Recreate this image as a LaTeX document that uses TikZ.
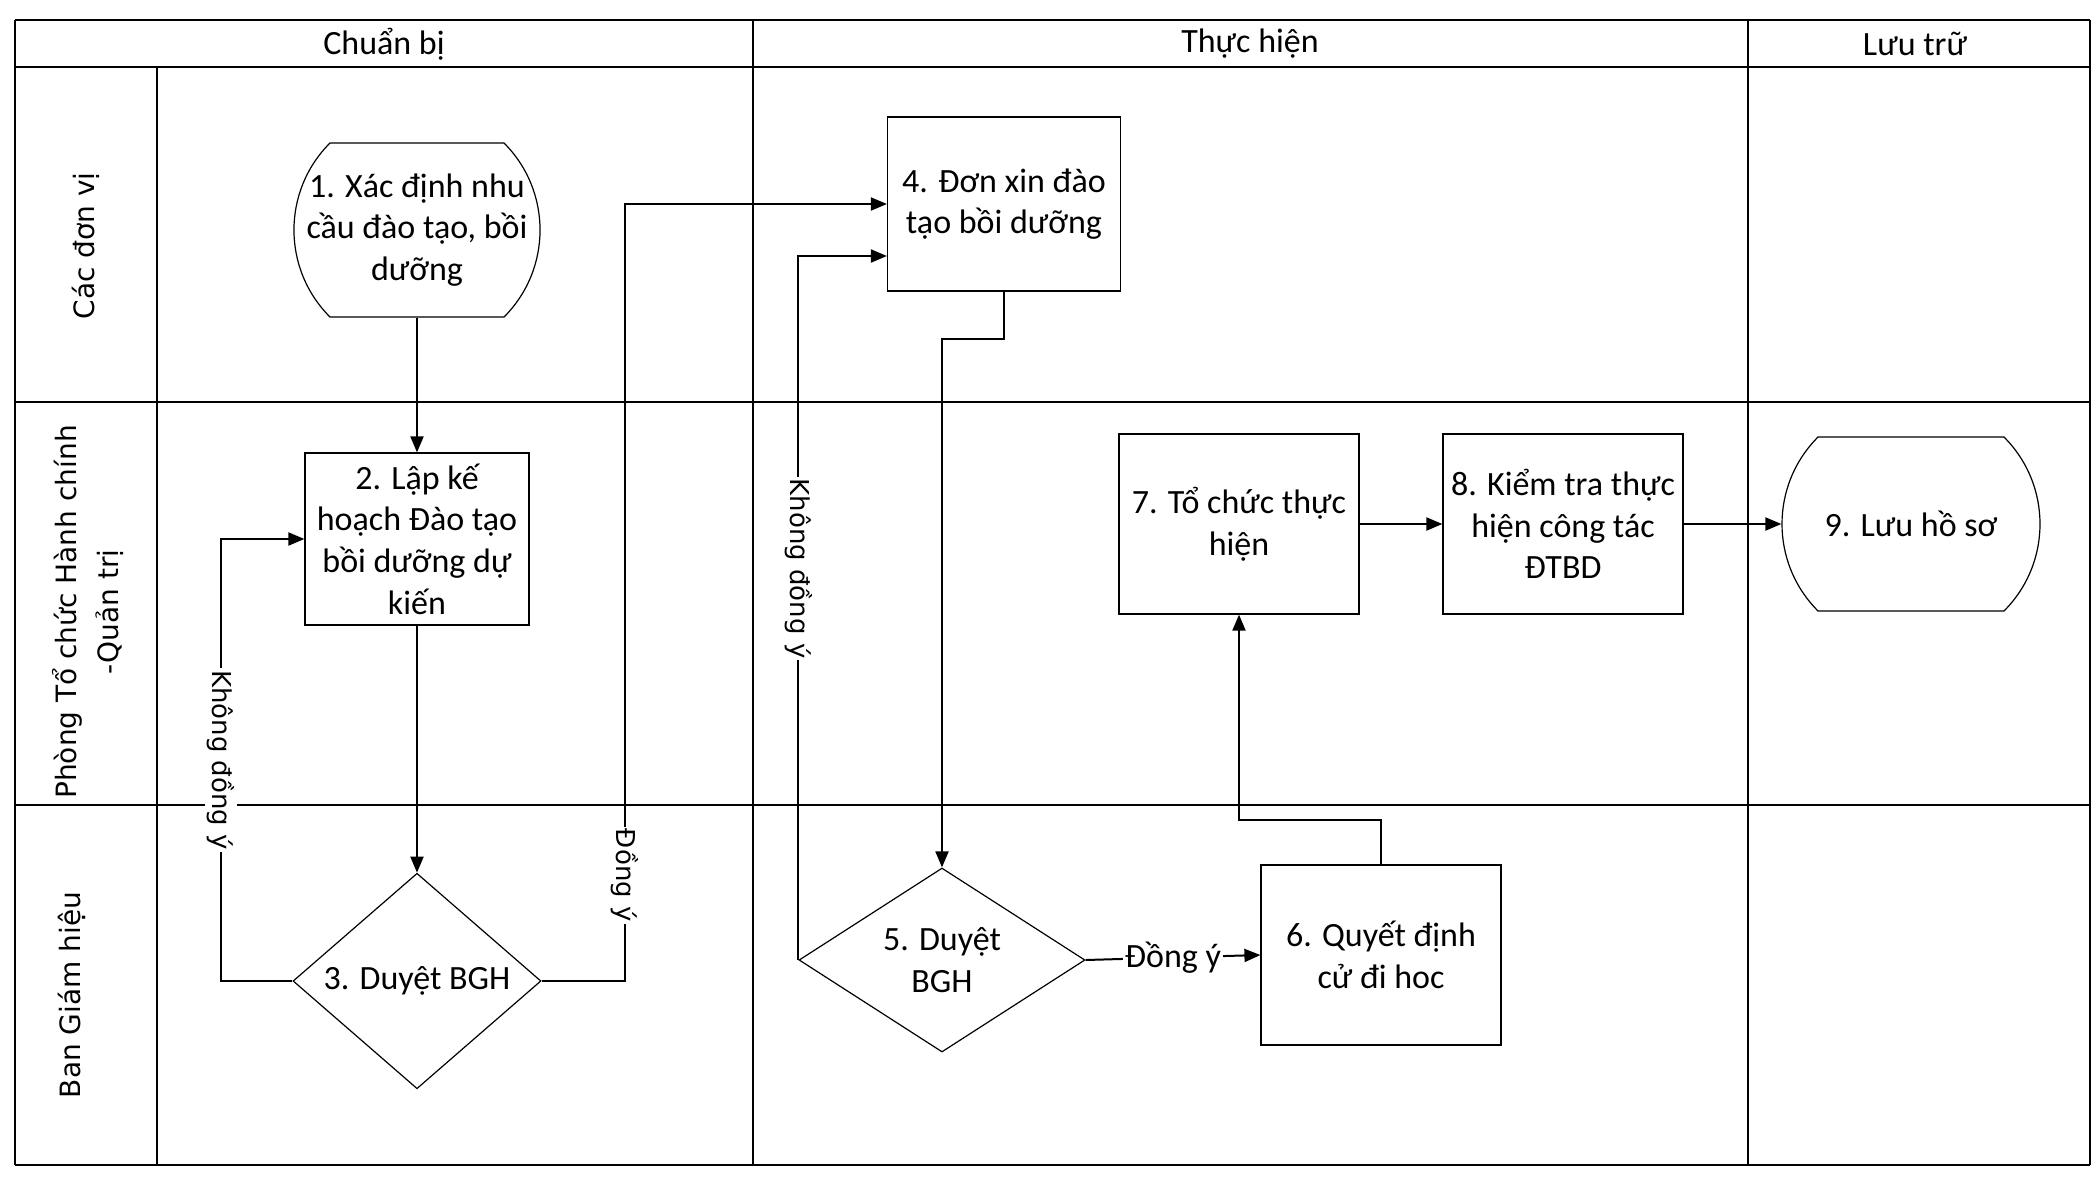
\documentclass[tikz,border=0pt]{standalone}
\usepackage{fontspec}
\setmainfont{Carlito}
\newfontfamily\lanefont{DejaVu Sans}
\usetikzlibrary{arrows.meta,shapes.geometric,shapes.misc,positioning}

\begin{document}
\begin{tikzpicture}[x=0.5pt,y=-0.5pt,
  txt/.style={font=\fontsize{17}{20.8}\selectfont,align=center},
  stepbox/.style={txt,draw,line width=0.6pt,inner sep=2pt,minimum width=120pt,minimum height=90pt},
  termbox/.style={txt,draw,line width=0.6pt,rounded rectangle,rounded rectangle arc length=90,
                  inner xsep=-33pt,inner ysep=2pt,minimum height=87pt},
  decide/.style={txt,draw,line width=0.6pt,diamond,inner sep=0pt},
  flow/.style={line width=1pt,-{Triangle[length=8pt,width=6.5pt]}},
  vlabel/.style={font=\lanefont\fontsize{13}{15}\selectfont,rotate=-90,fill=white,inner sep=1pt},
  hlabel/.style={txt,fill=white,inner sep=1pt},
  lane/.style={font=\lanefont\fontsize{14}{21}\selectfont,rotate=90,align=center},
  thickline/.style={line width=1.4pt},
  thinline/.style={line width=0.8pt}]
 \useasboundingbox (0,0) rectangle (2100,1184);
 % swimlane frame
 \draw[thickline] (15,20) -- (2090,20);
 \draw[thickline] (15,67) -- (2090,67);
 \draw[thickline] (15,402) -- (2090,402);
 \draw[thickline] (15,805) -- (2090,805);
 \draw[thickline] (15,1165) -- (2090,1165);
 \draw[thinline] (15,20) -- (15,1165);
 \draw[thinline] (2090,20) -- (2090,1165);
 \draw[thinline] (157,67) -- (157,1165);
 \draw[thinline] (753,20) -- (753,1165);
 \draw[thinline] (1748,20) -- (1748,1165);
 % phase headers
 \node[txt] (hcb) at (384,44) {Chuẩn bị};
 \node[txt] (hth) at (1250,44) {Thực hiện};
 \node[txt] (hlt) at (1915,44) {Lưu trữ};
 % lane titles
 \node[lane] (ldv) at (86,246) {Các đơn vị};
 \node[lane] (lpt) at (88,612) {Phòng Tổ chức Hành chính\\-Quản trị};
 \node[lane] (lbg) at (72,995) {Ban Giám hiệu};
 % steps
 \node[termbox] (n1) at (417,230) {1. Xác định nhu\\cầu đào tạo, bồi\\dưỡng};
 \node[stepbox,minimum width=112pt,minimum height=86pt] (n2) at (417,539) {2. Lập kế\\hoạch Đào tạo\\bồi dưỡng dự\\kiến};
 \node[decide,minimum width=124pt,minimum height=84pt] (n3) at (417,981) {3. Duyệt BGH};
 \node[stepbox,minimum width=116.5pt,minimum height=87pt] (n4) at (1004,204) {4. Đơn xin đào\\tạo bồi dưỡng};
 \node[decide,minimum width=143pt,minimum height=92pt] (n5) at (942,960) {5. Duyệt\\BGH};
 \node[stepbox] (n6) at (1381,955) {6. Quyết định\\cử đi hoc};
 \node[stepbox] (n7) at (1239,524) {7. Tổ chức thực\\hiện};
 \node[stepbox] (n8) at (1563,524) {8. Kiểm tra thực\\hiện công tác\\ĐTBD};
 \node[termbox,minimum width=63pt] (n9) at (1911,524) {9. Lưu hồ sơ};
 % flow
 \draw[flow] (n1.south) -- (n2.north);
 \draw[flow] (n2.south) -- (n3.north);
 \coordinate (k1) at (221,981);
 \draw[flow] (n3.west) -- (k1) -- node[vlabel]{Không đồng ý} (k1 |- n2.west) -- (n2.west);
 \coordinate (d1) at (625,981);
 \draw[flow] (n3.east) -- (d1) -- node[vlabel,pos=0.136]{Đồng ý} (d1 |- n4.west) -- (n4.west);
 \coordinate (b4) at (1004,339);
 \draw[flow] (n4.south) -- (b4) -| (n5.north);
 \coordinate (k2) at ([yshift=-26pt]n4.west);
 \draw[flow] (n5.west) -- node[vlabel,pos=0.556]{Không đồng ý} (n5.west |- k2) -- (k2);
 \draw[flow] (n5.east) -- node[hlabel]{Đồng ý} (n6.west);
 \coordinate (b6) at (1381,820);
 \draw[flow] (n6.north) -- (b6) -| (n7.south);
 \draw[flow] (n7.east) -- (n8.west);
 \draw[flow] (n8.east) -- (n9.west);
\end{tikzpicture}
\end{document}
